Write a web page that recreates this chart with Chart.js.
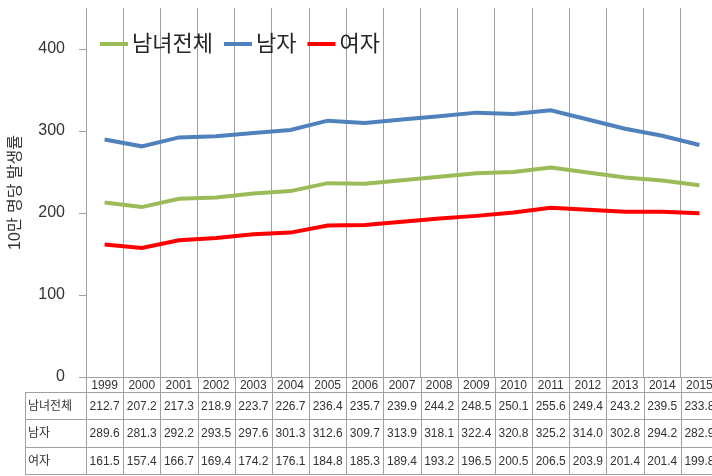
<!DOCTYPE html>
<html>
<head>
<meta charset="utf-8">
<script src="https://cdn.jsdelivr.net/npm/chart.js@4"></script>
<style>
  html, body { margin: 0; padding: 0; background: #fff; overflow: hidden; }
  #wrap { width: 720px; height: 476px; }
</style>
</head>
<body>
<div id="wrap"><canvas id="rateChart" width="720" height="476"></canvas></div>
<script>
const years = ['1999', '2000', '2001', '2002', '2003', '2004', '2005', '2006', '2007',
               '2008', '2009', '2010', '2011', '2012', '2013', '2014', '2015'];
const totalData = [212.7, 207.2, 217.3, 218.9, 223.7, 226.7, 236.4, 235.7, 239.9,
                   244.2, 248.5, 250.1, 255.6, 249.4, 243.2, 239.5, 233.8];
const maleData = [289.6, 281.3, 292.2, 293.5, 297.6, 301.3, 312.6, 309.7, 313.9,
                  318.1, 322.4, 320.8, 325.2, 314.0, 302.8, 294.2, 282.9];
const femaleData = [161.5, 157.4, 166.7, 169.4, 174.2, 176.1, 184.8, 185.3, 189.4,
                    193.2, 196.5, 200.5, 206.5, 203.9, 201.4, 201.4, 199.8];
const seriesLabels = ['남녀전체', '남자', '여자'];
const yTicks = [0, 100, 200, 300, 400];

const FONT = "'Liberation Sans', 'Noto Sans CJK KR', sans-serif";
const gridColor = '#a0a0a0';

// legend drawn inside the plot, top-left
const legendPlugin = {
    id: 'innerLegend',
    afterDraw(chart) {
        const ctx = chart.ctx;
        let x = 100;
        const y = 44;
        ctx.save();
        ctx.font = '22px ' + FONT;
        ctx.textBaseline = 'middle';
        chart.data.datasets.forEach(ds => {
            ctx.strokeStyle = ds.borderColor;
            ctx.lineWidth = 4;
            ctx.beginPath();
            ctx.moveTo(x, y);
            ctx.lineTo(x + 28, y);
            ctx.stroke();
            x += 32;
            ctx.fillStyle = '#262626';
            ctx.fillText(ds.label, x, y + 1);
            x += ctx.measureText(ds.label).width + 11;
        });
        ctx.restore();
    }
};

// data table under the x axis
const tablePlugin = {
    id: 'dataTable',
    afterDraw(chart) {
        const ctx = chart.ctx;
        const xs = chart.scales.x;
        const area = chart.chartArea;
        const n = years.length;
        const w = (area.right - area.left) / n;
        const rows = [area.bottom, 392, 419, 447, 474];
        const labelLeft = 25;
        ctx.save();
        ctx.strokeStyle = gridColor;
        ctx.lineWidth = 1;
        ctx.beginPath();
        for (let i = 0; i <= n; i++) {
            const bx = Math.round(area.left + i * w) + 0.5;
            ctx.moveTo(bx, area.bottom);
            ctx.lineTo(bx, rows[4]);
        }
        for (let r = 1; r < rows.length; r++) {
            ctx.moveTo(labelLeft, rows[r] + 0.5);
            ctx.lineTo(area.right, rows[r] + 0.5);
        }
        ctx.moveTo(labelLeft + 0.5, rows[1]);
        ctx.lineTo(labelLeft + 0.5, rows[4]);
        ctx.stroke();

        ctx.fillStyle = '#333';
        ctx.font = '12px ' + FONT;
        ctx.textBaseline = 'middle';
        ctx.textAlign = 'center';
        years.forEach((yr, i) => {
            ctx.fillText(yr, xs.getPixelForValue(i), (rows[0] + rows[1]) / 2 + 1);
        });
        const tableRows = [totalData, maleData, femaleData];
        tableRows.forEach((vals, r) => {
            const cy = (rows[r + 1] + rows[r + 2]) / 2 + 1;
            ctx.textAlign = 'left';
            ctx.fillText(seriesLabels[r], labelLeft + 3, cy);
            ctx.textAlign = 'center';
            vals.forEach((v, i) => {
                ctx.fillText(v.toFixed(1), xs.getPixelForValue(i), cy);
            });
        });
        ctx.restore();
    }
};

const line = (label, d, color) => ({
    label: label,
    data: d,
    borderColor: color,
    backgroundColor: color,
    borderWidth: 4,
    pointRadius: 0,
    tension: 0,
    fill: false
});

new Chart(document.getElementById('rateChart'), {
    type: 'line',
    data: {
        labels: years,
        datasets: [
            line(seriesLabels[0], totalData, '#9bbb59'),
            line(seriesLabels[1], maleData, '#4f81bd'),
            line(seriesLabels[2], femaleData, '#ff0000')
        ]
    },
    options: {
        responsive: false,
        animation: false,
        layout: { padding: { top: 8, right: 2, bottom: 99, left: 0 } },
        plugins: {
            legend: { display: false },
            tooltip: { enabled: false }
        },
        scales: {
            x: {
                offset: true,
                grid: { offset: true, color: gridColor, drawTicks: false },
                border: { color: gridColor },
                ticks: { display: false },
                afterFit: s => { s.height = 0; s.paddingLeft = 0; s.paddingRight = 0; }
            },
            y: {
                min: 0,
                max: 450,
                afterBuildTicks: s => { s.ticks = yTicks.map(v => ({ value: v })); },
                afterFit: s => { s.width = 86; s.paddingTop = 0; s.paddingBottom = 0; },
                grid: { drawOnChartArea: false, tickLength: 7, color: gridColor },
                border: { color: gridColor },
                ticks: { padding: 14, color: '#333', font: { family: FONT, size: 16 } },
                title: {
                    display: true,
                    text: '10만 명당 발생률',
                    color: '#333',
                    padding: { top: 6, bottom: 0 },
                    font: { family: FONT, size: 16 }
                }
            }
        }
    },
    plugins: [legendPlugin, tablePlugin]
});
</script>
</body>
</html>
